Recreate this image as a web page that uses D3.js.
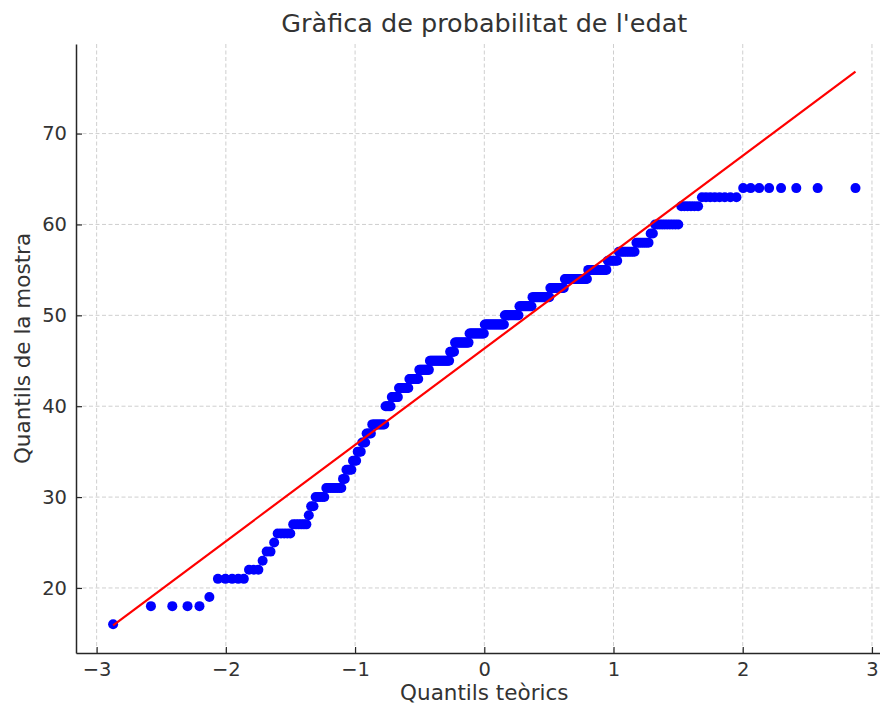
<!DOCTYPE html>
<html>
<head>
<meta charset="utf-8">
<script src="https://cdn.jsdelivr.net/npm/d3@7"></script>
<style>
  body { margin: 0; background: #fff; }
  svg text { font-family: "DejaVu Sans", sans-serif; fill: #333; }
</style>
</head>
<body>
<svg id="chart" width="880" height="706"></svg>
<script>
// ages seen in the sample and how many people have each one (read from the plateaus)
const ages =   [16,18,19,21,22,23,24,25,26,27,28,29,30,31,32,33,34,35,36,37,38,40,41,42,43,44,45,46,47,48,49,50,51,52,53,54,55,56,57,58,59,60,62,63,64];
const counts = [ 1, 4, 1, 5, 3, 1, 2, 1, 5, 6, 1, 2, 5, 9, 2, 4, 3, 3, 3, 4,10, 5, 6, 9, 9,10,20, 5,15,16,21,15,13,17,13,19,14, 7,10, 7, 2,10, 6, 8, 8];
const xTicks = [-3, -2, -1, 0, 1, 2, 3];
const yTicks = [20, 30, 40, 50, 60, 70];

const titleText = "Gràfica de probabilitat de l'edat";
const xLabelText = "Quantils teòrics";
const yLabelText = "Quantils de la mostra";

// inverse normal cdf (Acklam)
function normInv(p) {
    const a = [-3.969683028665376e+01, 2.209460984245205e+02, -2.759285104469687e+02, 1.383577518672690e+02, -3.066479806614716e+01, 2.506628277459239e+00];
    const b = [-5.447609879822406e+01, 1.615858368580409e+02, -1.556989798598866e+02, 6.680131188771972e+01, -1.328068155288572e+01];
    const c = [-7.784894002430293e-03, -3.223964580411365e-01, -2.400758277161838e+00, -2.549732539343734e+00, 4.374664141464968e+00, 2.938163982698783e+00];
    const d = [7.784695709041462e-03, 3.224671290700398e-01, 2.445134137142996e+00, 3.754408661907416e+00];
    const pl = 0.02425;
    let q, r;
    if (p < pl) {
        q = Math.sqrt(-2 * Math.log(p));
        return (((((c[0]*q+c[1])*q+c[2])*q+c[3])*q+c[4])*q+c[5]) / ((((d[0]*q+d[1])*q+d[2])*q+d[3])*q+1);
    }
    if (p > 1 - pl) {
        q = Math.sqrt(-2 * Math.log(1 - p));
        return -(((((c[0]*q+c[1])*q+c[2])*q+c[3])*q+c[4])*q+c[5]) / ((((d[0]*q+d[1])*q+d[2])*q+d[3])*q+1);
    }
    q = p - 0.5; r = q * q;
    return (((((a[0]*r+a[1])*r+a[2])*r+a[3])*r+a[4])*r+a[5])*q / (((((b[0]*r+b[1])*r+b[2])*r+b[3])*r+b[4])*r+1);
}

// ordered sample + Filliben order statistic medians, like scipy's probplot
let sample = [];
ages.forEach((a, i) => { for (let k = 0; k < counts[i]; k++) sample.push(a); });
let n = sample.length;
let med = d3.range(n).map(i => (i + 1 - 0.3175) / (n + 0.365));
med[n - 1] = Math.pow(0.5, 1 / n);
med[0] = 1 - med[n - 1];
let points = sample.map((v, i) => ({q: normInv(med[i]), v: v}));

// least squares fit line
let mq = d3.mean(points, d => d.q), mv = d3.mean(points, d => d.v);
let slope = d3.sum(points, d => (d.q - mq) * (d.v - mv)) / d3.sum(points, d => (d.q - mq) * (d.q - mq));
let intercept = mv - slope * mq;
let qExt = d3.extent(points, d => d.q);
let fitLine = qExt.map(q => ({q: q, v: intercept + slope * q}));

let svg = d3.select("#chart");
let margin = {top: 44, left: 76, bottom: 653};
let plotRight = 892.6;

// matplotlib style 5% padding around the data
let xPad = (qExt[1] - qExt[0]) * 0.05;
let yLo = Math.min(d3.min(points, d => d.v), d3.min(fitLine, d => d.v));
let yHi = Math.max(d3.max(points, d => d.v), d3.max(fitLine, d => d.v));
let yPad = (yHi - yLo) * 0.05;

let x = d3.scaleLinear().domain([qExt[0] - xPad, qExt[1] + xPad]).range([margin.left, plotRight]);
let y = d3.scaleLinear().domain([yLo - yPad, yHi + yPad]).range([margin.bottom, margin.top]);

// grid
let grid = svg.append("g").attr("class", "grid");
grid.selectAll(".gx").data(xTicks).enter().append("line")
    .attr("x1", d => x(d)).attr("x2", d => x(d))
    .attr("y1", margin.top).attr("y2", margin.bottom)
    .attr("stroke", "#cfcfcf").attr("stroke-width", 1).attr("stroke-dasharray", "4,2.5");
grid.selectAll(".gy").data(yTicks).enter().append("line")
    .attr("x1", margin.left).attr("x2", plotRight)
    .attr("y1", d => y(d)).attr("y2", d => y(d))
    .attr("stroke", "#cfcfcf").attr("stroke-width", 1).attr("stroke-dasharray", "4,2.5");

// axes
let xAxis = d3.axisBottom(x).tickValues(xTicks).tickFormat(d3.format("d"))
    .tickSizeInner(-6).tickSizeOuter(0).tickPadding(9);
let yAxis = d3.axisLeft(y).tickValues(yTicks).tickFormat(d3.format("d"))
    .tickSizeInner(-6).tickSizeOuter(0).tickPadding(9);

let gx = svg.append("g").attr("transform", "translate(0," + margin.bottom + ")").call(xAxis);
let gy = svg.append("g").attr("transform", "translate(" + margin.left + ",0)").call(yAxis);
[gx, gy].forEach(g => {
    g.select(".domain").attr("stroke", "#262626").attr("stroke-width", 1.5);
    g.selectAll(".tick line").attr("stroke", "#262626").attr("stroke-width", 1.2);
    g.selectAll(".tick text").attr("font-size", 19.5).attr("fill", "#333")
        .attr("font-family", "DejaVu Sans, sans-serif");
});

// points
svg.append("g").selectAll("circle").data(points).enter().append("circle")
    .attr("cx", d => x(d.q))
    .attr("cy", d => y(d.v))
    .attr("r", 5)
    .attr("fill", "#0000ff");

// fit line on top
let line = d3.line().x(d => x(d.q)).y(d => y(d.v));
svg.append("path").datum(fitLine)
    .attr("d", line)
    .attr("fill", "none")
    .attr("stroke", "#ff0000")
    .attr("stroke-width", 2.2);

// texts
svg.append("text")
    .attr("x", (margin.left + plotRight) / 2).attr("y", 32)
    .attr("text-anchor", "middle").attr("font-size", 25.5)
    .text(titleText);

svg.append("text")
    .attr("x", (margin.left + plotRight) / 2).attr("y", 700)
    .attr("text-anchor", "middle").attr("font-size", 21.5)
    .text(xLabelText);

svg.append("text")
    .attr("transform", "translate(29.5," + (margin.top + margin.bottom) / 2 + ") rotate(-90)")
    .attr("text-anchor", "middle").attr("font-size", 21.5)
    .text(yLabelText);
</script>
</body>
</html>
